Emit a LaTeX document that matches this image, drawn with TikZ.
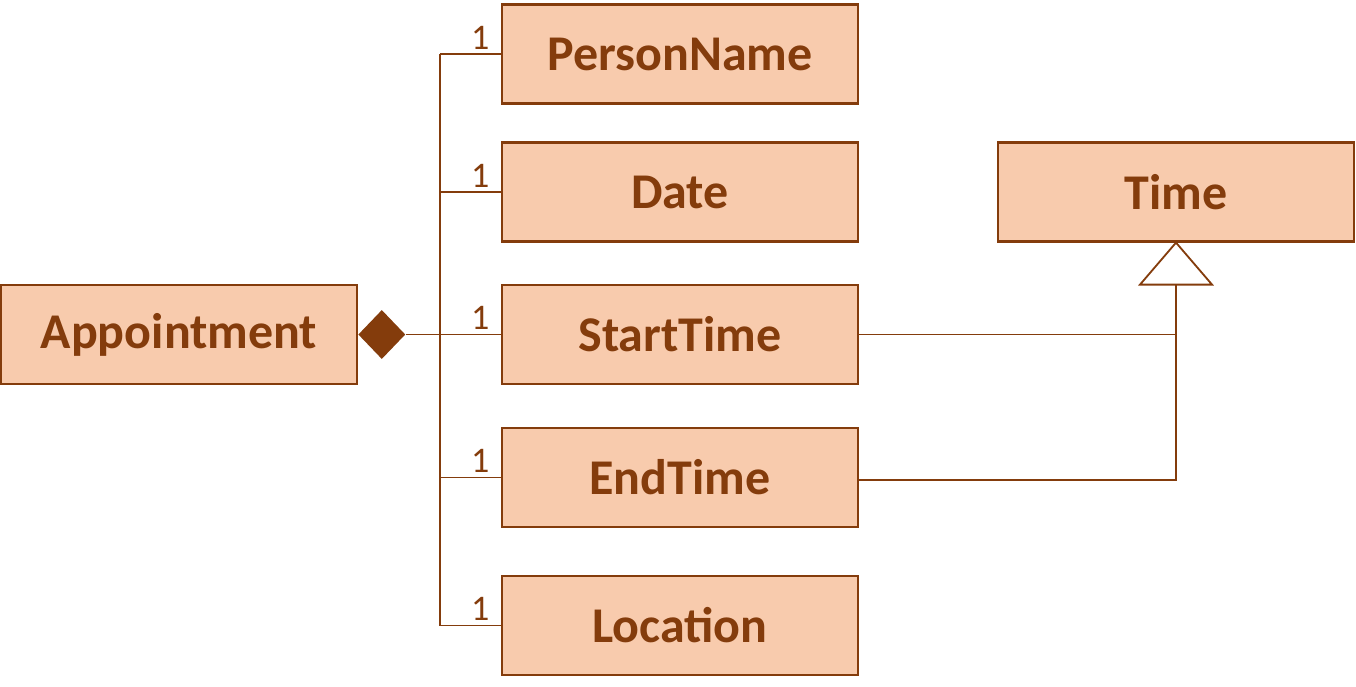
\documentclass[tikz,border=0pt]{standalone}
\usepackage{fontspec}
\setmainfont{Carlito}
\usepackage{xcolor}
\usetikzlibrary{positioning,shapes.geometric,arrows.meta,calc}

\definecolor{umlbrown}{HTML}{843C0C}
\definecolor{umlfill}{HTML}{F8CBAD}

\tikzset{
  cls/.style={draw=umlbrown, fill=umlfill, line width=2.2pt, text=umlbrown,
    minimum width=356pt, minimum height=99pt, inner sep=0pt,
    font=\fontsize{50}{58}\selectfont\bfseries},
  assoc/.style={draw=umlbrown, line width=1.2pt},
  mult/.style={text=umlbrown, font=\fontsize{36}{42}\selectfont, inner sep=1pt},
}

\begin{document}
\begin{tikzpicture}[x=1pt, y=-1pt]

% Canvas
\useasboundingbox (0, 0) rectangle (1356, 686);

% Classes
\node[cls] (appt)  at (179, 334.5) {Appointment};
\node[cls] (pname) at (680, 54)    {PersonName};
\node[cls] (date)  at (680, 192)   {Date};
\node[cls] (start) at (680, 334.5) {StartTime};
\node[cls] (end)   at (680, 477.5) {EndTime};
\node[cls] (loc)   at (680, 625.5) {Location};
\node[cls] (time)  at (1176, 192)  {Time};

% Composition diamond
\node[diamond, fill=umlbrown, inner sep=0pt, aspect=1,
      minimum width=47pt, minimum height=49pt, anchor=west] (dia) at (appt.east) {};

% Composition bus
\coordinate (bus) at (440, 0);
\draw[assoc] (dia.east) -- (dia.east -| bus);
\draw[assoc] (pname.west -| bus) -- (loc.west -| bus);
\foreach \part in {pname, date, start, end, loc} {
    \draw[assoc] (\part.west -| bus) -- (\part.west)
        node[mult, pos=0.66, above=3pt] {1};
}

% Generalization triangle
\coordinate (tribase) at ($(time.south) + (0, 42)$);
\draw[draw=umlbrown, fill=white, line width=1.8pt, line join=miter]
    (time.south) -- ($(tribase) + (-36, 0)$) -- ($(tribase) + (36, 0)$) -- cycle;

% Generalization lines
\draw[assoc] (start.east) -- (start.east -| tribase) -- (tribase);
\draw[assoc] ([yshift=-2.5pt]end.east) -| (tribase);

\end{tikzpicture}
\end{document}
